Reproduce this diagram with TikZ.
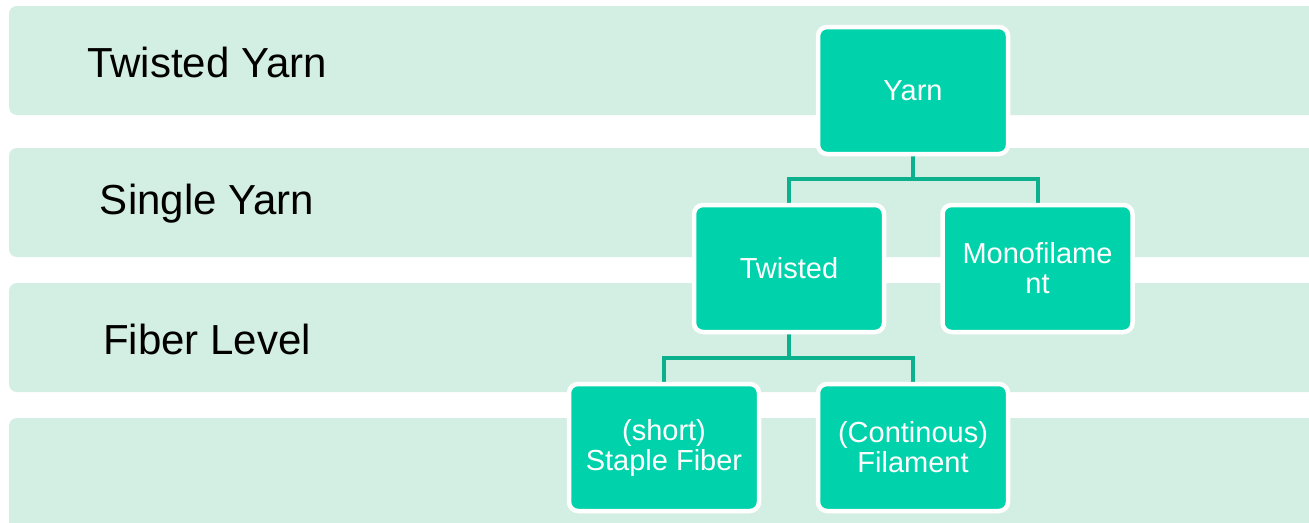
\documentclass[tikz,border=0pt]{standalone}
\usepackage{fontspec}
\setmainfont{Liberation Sans}
\usetikzlibrary{backgrounds}
\definecolor{bandfill}{HTML}{D3EEE2}
\definecolor{nodefill}{HTML}{00D3AB}
\definecolor{connc}{HTML}{0BB08C}
\tikzset{
  band/.style={fill=bandfill, draw=none, rounded corners=8pt},
  level/.style={font=\fontsize{42}{50}\selectfont, text=black, anchor=center},
  box/.style={rectangle, rounded corners=9pt, fill=nodefill, draw=white, line width=4.5pt,
    minimum width=190pt, minimum height=127pt, text=white, align=center,
    font=\fontsize{29}{30}\selectfont, inner sep=0pt},
  conn/.style={draw=connc, line width=4pt, line join=miter}
}
\begin{document}
\begin{tikzpicture}[x=1pt, y=-1pt]
\useasboundingbox (0,0) rectangle (1309,522);
\begin{scope}[on background layer]
\fill[white] (0,0) rectangle (1309,522);
\begin{scope}
\clip (0,0) rectangle (1309,522);
\fill[band] (9,6) rectangle (1340,115);
\fill[band] (9,148) rectangle (1340,257);
\fill[band] (9,283) rectangle (1340,392);
\fill[band] (9,418) rectangle (1340,560);
\end{scope}
\end{scope}
\node[level] (l1) at (207,62) {Twisted Yarn};
\node[level] (l2) at (207,204) {Single Yarn};
\node[level] (l3) at (207,339) {Fiber Level};
\node[box] (yarn) at (913,90.5) {Yarn};
\node[box] (twisted) at (789,268.5) {Twisted};
\node[box] (mono) at (1037.5,268.5) {Monofilame\\nt};
\node[box] (staple) at (664,447.5) {(short)\\Staple Fiber};
\node[box] (fil) at (913,447.5) {(Continous)\\Filament};
\coordinate (j1) at (913,179);
\coordinate (j2) at (789,358);
\begin{scope}[on background layer]
\draw[conn] (yarn.south) -- (j1);
\draw[conn] (twisted.north) |- (j1) -| (mono.north);
\draw[conn] (twisted.south) -- (j2);
\draw[conn] (staple.north) |- (j2) -| (fil.north);
\end{scope}
\end{tikzpicture}
\end{document}
